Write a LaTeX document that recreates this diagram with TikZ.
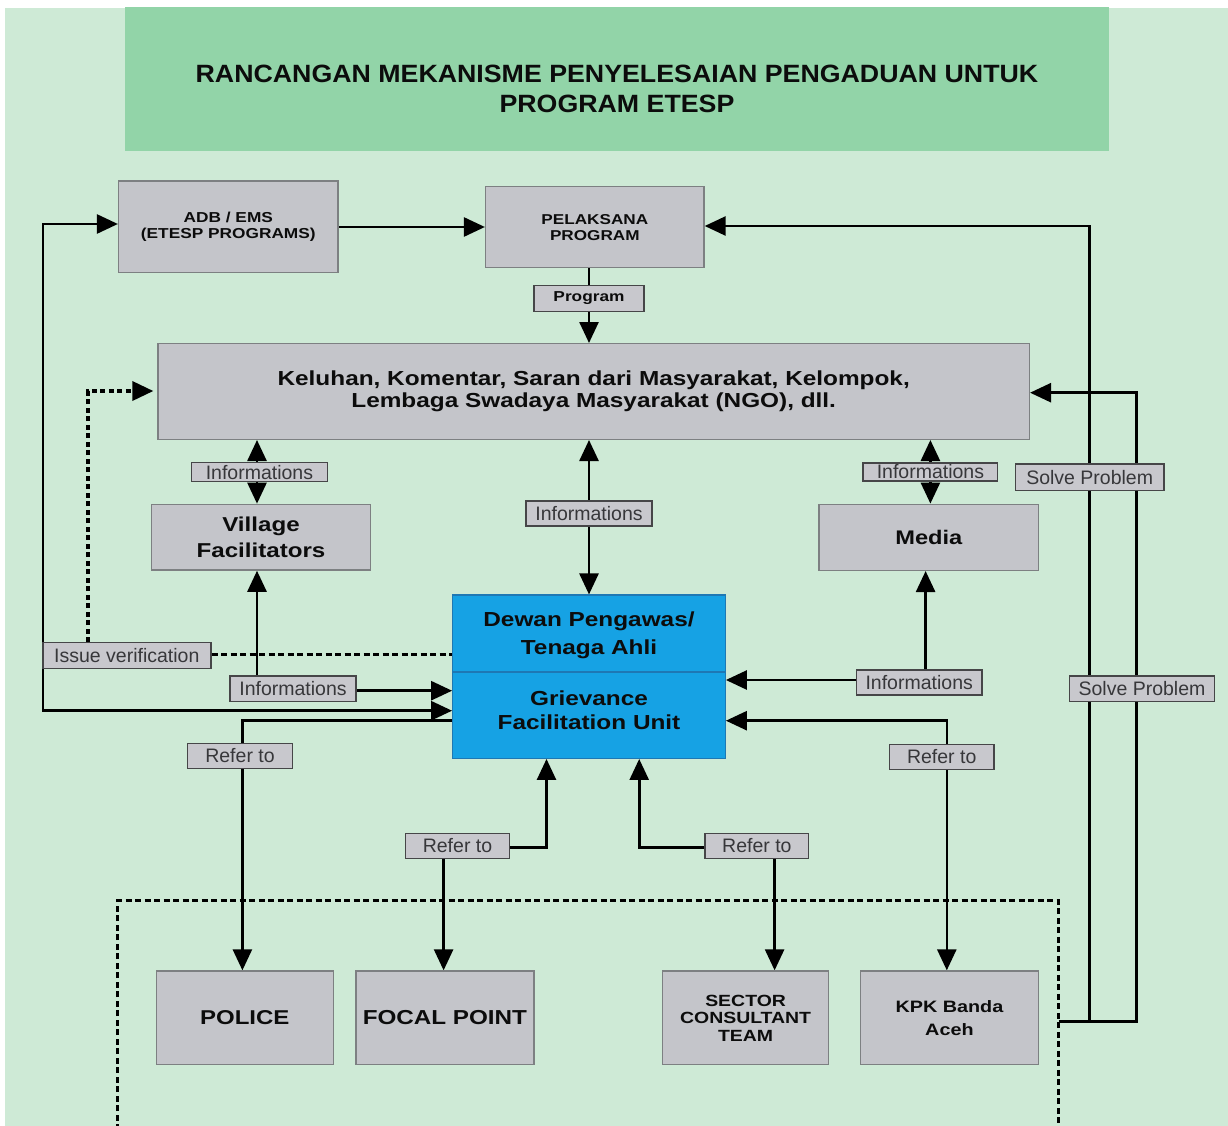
\documentclass[tikz,border=0pt]{standalone}
\usepackage{fontspec}
\setmainfont{Liberation Sans}
\newfontfamily\widef{Liberation Sans}[FakeStretch=1.2]
\newfontfamily\titlef{Liberation Sans}[FakeStretch=1.07]
\usetikzlibrary{arrows.meta}
\pgfdeclarelayer{bgl}
\pgfdeclarelayer{lines}
\pgfsetlayers{bgl,lines,main}
\definecolor{bggreen}{RGB}{206,234,214}
\definecolor{titlegreen}{RGB}{146,212,168}
\definecolor{boxfill}{RGB}{196,197,202}
\definecolor{boxline}{RGB}{125,128,130}
\definecolor{labfill}{RGB}{200,200,205}
\definecolor{labline}{RGB}{70,70,72}
\definecolor{labtext}{RGB}{55,55,58}
\definecolor{skyblue}{RGB}{22,162,228}
\definecolor{blueline}{RGB}{30,120,180}
\definecolor{inkk}{RGB}{12,12,12}
\tikzset{
  mainbox/.style={draw=boxline, fill=boxfill, line width=1.4pt, inner sep=0pt, align=center, text=inkk},
  lab/.style={draw=labline, fill=labfill, line width=1.4pt, inner sep=0pt, text=labtext, font=\fontsize{19.5}{20}\selectfont},
  conn/.style={line width=2.6pt, draw=black},
  dotline/.style={line width=3.5pt, dash pattern=on 5pt off 3.5pt},
  dashline/.style={line width=3.3pt, dash pattern=on 6pt off 3.5pt},
  grpline/.style={line width=3.5pt, dash pattern=on 6pt off 3.5pt},
}
\begin{document}
\begin{tikzpicture}[x=1pt,y=-1pt, >={Triangle[length=21pt,width=19pt]}]
\useasboundingbox (0,0) rectangle (1228,1126);
\begin{pgfonlayer}{bgl}
\fill[white] (0,0) rectangle (1228,1126);
\fill[bggreen] (5,8) rectangle (1228,1126);
\end{pgfonlayer}

% title
\node[fill=titlegreen, minimum width=984pt, minimum height=144pt, inner sep=0pt] (tbox) at (617,79) {};
\node[font=\titlef\bfseries\fontsize{25}{30}\selectfont, align=center, text=inkk] (ttl) at (617,89) {RANCANGAN MEKANISME PENYELESAIAN PENGADUAN UNTUK\\PROGRAM ETESP};

% main boxes
\node[mainbox, minimum width=219.4pt, minimum height=91.7pt, font=\widef\bfseries\fontsize{14.4}{15.5}\selectfont] (adb) at (228.3,226.8) {ADB / EMS\\(ETESP PROGRAMS)};
\node[mainbox, minimum width=218.4pt, minimum height=81pt, font=\widef\bfseries\fontsize{14.3}{16}\selectfont] (pel) at (594.8,227.2) {PELAKSANA\\PROGRAM};
\node[mainbox, minimum width=871.3pt, minimum height=95.6pt, font=\widef\bfseries\fontsize{20.3}{21.7}\selectfont] (kel) at (593.7,391.5) {Keluhan, Komentar, Saran dari Masyarakat, Kelompok,\\Lembaga Swadaya Masyarakat (NGO), dll.};
\node[mainbox, minimum width=219.1pt, minimum height=65.7pt, font=\widef\bfseries\fontsize{20.1}{26.7}\selectfont] (vil) at (261,537.2) {Village\\Facilitators};
\node[mainbox, minimum width=219.5pt, minimum height=66pt, font=\widef\bfseries\fontsize{19.7}{24}\selectfont] (media) at (928.8,537.3) {Media};

\node[draw=blueline, fill=skyblue, line width=1.2pt, minimum width=272.6pt, minimum height=163.3pt, inner sep=0pt] (dw) at (589,676.7) {};
\draw[blueline, line width=1.2pt] (dw.west |- 0,672) -- (dw.east |- 0,672);
\node[font=\widef\bfseries\fontsize{20.3}{27.6}\selectfont, align=center, text=inkk] (dwtop) at (589,635.5) {Dewan Pengawas/\\Tenaga Ahli};
\node[font=\widef\bfseries\fontsize{20.3}{24}\selectfont, align=center, text=inkk] (dwbot) at (589,710.3) {Grievance\\Facilitation Unit};

\node[mainbox, minimum width=177.1pt, minimum height=93.7pt, font=\widef\bfseries\fontsize{20}{24}\selectfont] (police) at (244.8,1017.9) {POLICE};
\node[mainbox, minimum width=177.9pt, minimum height=93.7pt, font=\widef\bfseries\fontsize{20.2}{24}\selectfont] (focal) at (444.9,1017.9) {FOCAL POINT};
\node[mainbox, minimum width=166.2pt, minimum height=93.7pt, font=\widef\bfseries\fontsize{16.2}{17.5}\selectfont] (sector) at (745.6,1017.9) {SECTOR\\CONSULTANT\\TEAM};
\node[mainbox, minimum width=178.2pt, minimum height=93.7pt, font=\widef\bfseries\fontsize{16.5}{23.3}\selectfont] (kpk) at (949.4,1017.9) {KPK Banda\\Aceh};

% labels
\node[lab, minimum width=110pt, minimum height=25.6pt, font=\widef\bfseries\fontsize{14.4}{16}\selectfont, text=inkk] (prog) at (589,298.5) {Program};
\node[lab, minimum width=136pt, minimum height=19pt] (inf1) at (259.4,472.2) {Informations};
\node[lab, minimum width=126pt, minimum height=25pt] (inf2) at (589,513.5) {Informations};
\node[lab, minimum width=134.7pt, minimum height=18pt] (inf3) at (930.4,471.9) {Informations};
\node[lab, minimum width=148.7pt, minimum height=26.7pt] (solve1) at (1089.7,477.4) {Solve Problem};
\node[lab, minimum width=168pt, minimum height=25.6pt] (issue) at (126.8,655.5) {Issue verification};
\node[lab, minimum width=126pt, minimum height=25.7pt] (inf4) at (293,688.9) {Informations};
\node[lab, minimum width=125.7pt, minimum height=25pt] (inf5) at (919.2,682.5) {Informations};
\node[lab, minimum width=145.3pt, minimum height=25.3pt] (solve2) at (1142,688.7) {Solve Problem};
\node[lab, minimum width=105pt, minimum height=25.4pt] (ref1) at (240,756) {Refer to};
\node[lab, minimum width=104.5pt, minimum height=25.4pt] (ref4) at (941.7,757) {Refer to};
\node[lab, minimum width=104.4pt, minimum height=25.4pt] (ref2) at (457.5,846) {Refer to};
\node[lab, minimum width=103.7pt, minimum height=25.4pt] (ref3) at (756.9,846) {Refer to};

\coordinate (grpE) at (1058.5,1021.7);

\begin{pgfonlayer}{lines}
% group border
\draw[grpline] (117.4,1130) -- (117.4,900.7) -- (1058.5,900.7) -- (1058.5,1130);
% connectors
\draw[conn,<->] (adb.west |- 0,224) -- (43,224) -- (43,710.7) -- (dw.west |- 0,710.7);
\draw[conn,->] (adb.east |- 0,227) -- (pel.west |- 0,227);
\draw[conn] (589,0 |- pel.south) -- (prog.north);
\draw[conn,->] (prog.south) -- (prog.south |- kel.north);
\draw[conn,<->] (257,0 |- kel.south) -- (257,0 |- vil.north);
\draw[conn,<->] (dw.north) -- (dw.north |- kel.south);
\draw[conn,<->] (930.4,0 |- kel.south) -- (930.4,0 |- media.north);
\draw[dotline,->] (87.8,0 |- issue.north) -- (87.8,391) -- ([xshift=-4pt]kel.west |- 0,391);
\draw[dashline] (issue.east |- 0,654.7) -- (dw.west |- 0,654.7);
\draw[conn,->] (257,0 |- inf4.north) -- (257,0 |- vil.south);
\draw[conn,->] (inf4.east |- 0,690.7) -- (dw.west |- 0,690.7);
\draw[conn,->] (925.6,0 |- inf5.north) -- (925.6,0 |- media.south);
\draw[conn,->] (inf5.west |- 0,680) -- (dw.east |- 0,680);
\draw[conn,->] (dw.west |- 0,720.7) -- (242.4,720.7) -- (242.4,0 |- police.north);
\draw[conn,<->] (dw.east |- 0,720.7) -- (946.8,720.7) -- (946.8,0 |- kpk.north);
\draw[conn,->] (ref2.east |- 0,847.3) -- (546.5,847.3) -- (546.5,0 |- dw.south);
\draw[conn,->] (443.6,0 |- ref2.south) -- (443.6,0 |- focal.north);
\draw[conn,->] (ref3.west |- 0,847.3) -- (639.2,847.3) -- (639.2,0 |- dw.south);
\draw[conn,->] (774.6,0 |- ref3.south) -- (774.6,0 |- sector.north);
\draw[conn,->] (grpE) -- (1136.5,1021.7) -- (1136.5,392.7) -- (kel.east |- 0,392.7);
\draw[conn,->] (1089.5,1021.7) -- (1089.5,226) -- (pel.east |- 0,226);
\end{pgfonlayer}
\end{tikzpicture}
\end{document}
